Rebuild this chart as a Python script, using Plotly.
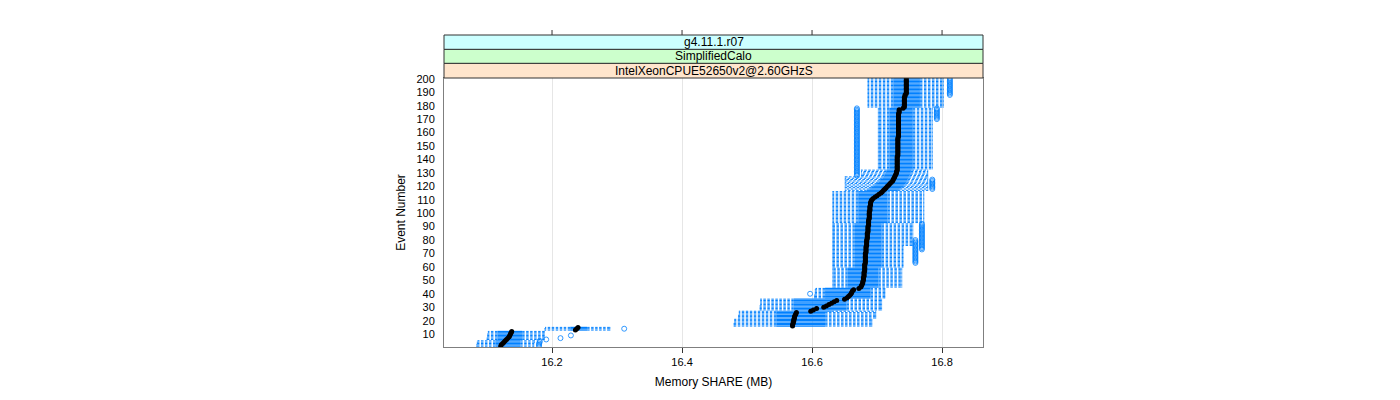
import plotly.graph_objects as go

# ---------------- data ----------------
events = list(range(1, 201))

med = [
16.121, 16.122, 16.124, 16.126, 16.128, 16.130, 16.132, 16.134, 16.135, 16.136,
16.137, 16.138, 16.236, 16.238, 16.240, 16.570, 16.570, 16.571, 16.571, 16.572,
16.572, 16.573, 16.573, 16.574, 16.575, 16.576, 16.598, 16.602, 16.607, 16.618,
16.622, 16.626, 16.630, 16.634, 16.638, 16.650, 16.654, 16.656, 16.658, 16.660,
16.661, 16.662, 16.664, 16.672, 16.675, 16.676, 16.677, 16.678, 16.678, 16.679,
16.679, 16.679, 16.680, 16.680, 16.680, 16.680, 16.681, 16.681, 16.681, 16.681,
16.681, 16.681, 16.682, 16.682, 16.682, 16.682, 16.682, 16.682, 16.682, 16.682,
16.683, 16.683, 16.683, 16.683, 16.683, 16.684, 16.684, 16.684, 16.684, 16.684,
16.685, 16.685, 16.685, 16.685, 16.685, 16.686, 16.686, 16.686, 16.686, 16.686,
16.687, 16.687, 16.687, 16.687, 16.687, 16.688, 16.688, 16.688, 16.688, 16.688,
16.688, 16.689, 16.689, 16.689, 16.689, 16.690, 16.690, 16.690, 16.691, 16.692,
16.694, 16.697, 16.700, 16.703, 16.706, 16.708, 16.710, 16.712, 16.714, 16.716,
16.718, 16.720, 16.722, 16.724, 16.725, 16.726, 16.727, 16.728, 16.729, 16.730,
16.730, 16.731, 16.731, 16.731, 16.731, 16.731, 16.731, 16.731, 16.731, 16.731,
16.731, 16.731, 16.732, 16.732, 16.732, 16.732, 16.732, 16.732, 16.732, 16.732,
16.732, 16.732, 16.732, 16.732, 16.732, 16.732, 16.733, 16.733, 16.733, 16.733,
16.733, 16.733, 16.733, 16.733, 16.733, 16.733, 16.733, 16.733, 16.733, 16.733,
16.733, 16.733, 16.733, 16.733, 16.734, 16.734, 16.734, 16.740, 16.742, 16.742,
16.742, 16.742, 16.742, 16.742, 16.742, 16.742, 16.743, 16.743, 16.745, 16.745,
16.745, 16.745, 16.745, 16.745, 16.745, 16.745, 16.745, 16.745, 16.745, 16.745,
]

q1 = [
16.113, 16.113, 16.113, 16.113, 16.113, 16.116, 16.116, 16.116, 16.116, 16.116,
16.116, 16.116, 16.228, 16.228, 16.228, 16.545, 16.545, 16.545, 16.545, 16.545,
16.545, 16.545, 16.545, 16.545, 16.545, 16.545, 16.545, 16.572, 16.572, 16.572,
16.572, 16.572, 16.572, 16.572, 16.572, 16.572, 16.620, 16.620, 16.620, 16.620,
16.620, 16.620, 16.620, 16.620, 16.655, 16.655, 16.655, 16.655, 16.655, 16.655,
16.655, 16.655, 16.655, 16.655, 16.655, 16.655, 16.655, 16.655, 16.655, 16.666,
16.666, 16.666, 16.666, 16.666, 16.666, 16.666, 16.666, 16.666, 16.666, 16.666,
16.666, 16.666, 16.666, 16.666, 16.666, 16.666, 16.666, 16.666, 16.666, 16.666,
16.666, 16.666, 16.666, 16.666, 16.666, 16.666, 16.666, 16.666, 16.666, 16.666,
16.666, 16.666, 16.671, 16.671, 16.671, 16.671, 16.671, 16.671, 16.671, 16.671,
16.671, 16.671, 16.671, 16.671, 16.671, 16.671, 16.671, 16.671, 16.671, 16.671,
16.671, 16.671, 16.671, 16.671, 16.671, 16.671, 16.684, 16.688, 16.691, 16.694,
16.697, 16.700, 16.702, 16.704, 16.706, 16.708, 16.710, 16.711, 16.712, 16.713,
16.714, 16.715, 16.719, 16.719, 16.719, 16.719, 16.719, 16.719, 16.719, 16.719,
16.719, 16.719, 16.719, 16.719, 16.719, 16.719, 16.719, 16.719, 16.719, 16.719,
16.719, 16.719, 16.719, 16.719, 16.719, 16.719, 16.719, 16.719, 16.719, 16.719,
16.719, 16.719, 16.719, 16.719, 16.719, 16.719, 16.719, 16.719, 16.719, 16.719,
16.719, 16.719, 16.719, 16.719, 16.719, 16.719, 16.719, 16.719, 16.725, 16.725,
16.725, 16.725, 16.725, 16.725, 16.725, 16.725, 16.725, 16.725, 16.725, 16.725,
16.725, 16.725, 16.725, 16.725, 16.725, 16.725, 16.725, 16.725, 16.725, 16.725,
]

q3 = [
16.151, 16.151, 16.151, 16.151, 16.151, 16.154, 16.154, 16.154, 16.154, 16.154,
16.154, 16.154, 16.254, 16.254, 16.254, 16.620, 16.620, 16.620, 16.620, 16.620,
16.620, 16.620, 16.620, 16.620, 16.620, 16.620, 16.630, 16.653, 16.653, 16.653,
16.653, 16.653, 16.653, 16.653, 16.653, 16.653, 16.690, 16.690, 16.690, 16.690,
16.690, 16.690, 16.690, 16.690, 16.702, 16.702, 16.702, 16.702, 16.702, 16.702,
16.702, 16.702, 16.702, 16.702, 16.702, 16.702, 16.702, 16.702, 16.702, 16.707,
16.707, 16.707, 16.707, 16.707, 16.707, 16.707, 16.707, 16.707, 16.707, 16.707,
16.707, 16.707, 16.707, 16.707, 16.707, 16.707, 16.707, 16.707, 16.707, 16.707,
16.707, 16.707, 16.707, 16.707, 16.707, 16.707, 16.707, 16.707, 16.707, 16.707,
16.707, 16.707, 16.716, 16.716, 16.716, 16.716, 16.716, 16.716, 16.716, 16.716,
16.716, 16.716, 16.716, 16.716, 16.716, 16.716, 16.716, 16.716, 16.716, 16.716,
16.716, 16.716, 16.716, 16.716, 16.716, 16.716, 16.732, 16.735, 16.738, 16.740,
16.742, 16.744, 16.745, 16.746, 16.747, 16.748, 16.749, 16.750, 16.751, 16.752,
16.752, 16.753, 16.755, 16.755, 16.755, 16.755, 16.755, 16.755, 16.755, 16.755,
16.755, 16.755, 16.755, 16.755, 16.755, 16.755, 16.755, 16.755, 16.755, 16.755,
16.755, 16.755, 16.755, 16.755, 16.755, 16.755, 16.755, 16.755, 16.755, 16.755,
16.755, 16.755, 16.755, 16.755, 16.755, 16.755, 16.755, 16.755, 16.755, 16.755,
16.755, 16.755, 16.755, 16.755, 16.755, 16.755, 16.755, 16.755, 16.766, 16.766,
16.766, 16.766, 16.766, 16.766, 16.766, 16.766, 16.766, 16.766, 16.766, 16.766,
16.766, 16.766, 16.766, 16.766, 16.766, 16.766, 16.766, 16.766, 16.766, 16.766,
]

lo = [
16.084, 16.084, 16.085, 16.085, 16.086, 16.100, 16.100, 16.101, 16.101, 16.101,
16.102, 16.102, 16.189, 16.189, 16.190, 16.480, 16.480, 16.480, 16.481, 16.481,
16.481, 16.487, 16.487, 16.487, 16.488, 16.488, 16.488, 16.520, 16.520, 16.520,
16.520, 16.521, 16.521, 16.521, 16.521, 16.521, 16.604, 16.604, 16.604, 16.605,
16.605, 16.605, 16.605, 16.606, 16.632, 16.632, 16.632, 16.632, 16.632, 16.632,
16.632, 16.632, 16.632, 16.632, 16.632, 16.632, 16.632, 16.632, 16.632, 16.632,
16.632, 16.632, 16.632, 16.632, 16.632, 16.632, 16.632, 16.632, 16.632, 16.632,
16.632, 16.632, 16.632, 16.632, 16.632, 16.632, 16.632, 16.632, 16.632, 16.632,
16.632, 16.632, 16.632, 16.632, 16.632, 16.632, 16.632, 16.632, 16.632, 16.632,
16.632, 16.632, 16.632, 16.632, 16.632, 16.632, 16.632, 16.632, 16.632, 16.632,
16.632, 16.632, 16.632, 16.632, 16.632, 16.632, 16.632, 16.632, 16.632, 16.632,
16.632, 16.632, 16.632, 16.632, 16.632, 16.632, 16.651, 16.651, 16.651, 16.651,
16.651, 16.651, 16.651, 16.651, 16.651, 16.651, 16.651, 16.676, 16.676, 16.676,
16.676, 16.676, 16.702, 16.702, 16.702, 16.702, 16.702, 16.702, 16.702, 16.702,
16.702, 16.702, 16.702, 16.702, 16.702, 16.702, 16.702, 16.702, 16.702, 16.702,
16.702, 16.702, 16.702, 16.702, 16.702, 16.702, 16.702, 16.702, 16.702, 16.702,
16.702, 16.702, 16.702, 16.702, 16.702, 16.702, 16.702, 16.702, 16.702, 16.702,
16.702, 16.702, 16.702, 16.702, 16.702, 16.702, 16.702, 16.702, 16.686, 16.686,
16.686, 16.686, 16.686, 16.686, 16.686, 16.686, 16.686, 16.686, 16.686, 16.686,
16.686, 16.686, 16.686, 16.686, 16.686, 16.686, 16.686, 16.686, 16.686, 16.686,
]

hi = [
16.172, 16.172, 16.172, 16.173, 16.173, 16.188, 16.188, 16.188, 16.188, 16.188,
16.188, 16.188, 16.289, 16.289, 16.289, 16.692, 16.692, 16.692, 16.692, 16.692,
16.692, 16.698, 16.698, 16.698, 16.698, 16.698, 16.698, 16.707, 16.707, 16.707,
16.707, 16.707, 16.707, 16.707, 16.707, 16.707, 16.712, 16.712, 16.712, 16.712,
16.712, 16.712, 16.712, 16.712, 16.738, 16.738, 16.738, 16.738, 16.738, 16.738,
16.738, 16.738, 16.738, 16.738, 16.738, 16.738, 16.738, 16.738, 16.738, 16.740,
16.740, 16.740, 16.740, 16.740, 16.740, 16.740, 16.740, 16.740, 16.740, 16.740,
16.740, 16.740, 16.740, 16.740, 16.740, 16.755, 16.755, 16.755, 16.755, 16.755,
16.755, 16.755, 16.755, 16.755, 16.755, 16.755, 16.755, 16.755, 16.755, 16.755,
16.755, 16.755, 16.772, 16.772, 16.772, 16.772, 16.772, 16.772, 16.772, 16.772,
16.772, 16.772, 16.772, 16.772, 16.772, 16.772, 16.772, 16.772, 16.772, 16.772,
16.772, 16.772, 16.772, 16.772, 16.772, 16.772, 16.778, 16.778, 16.778, 16.778,
16.778, 16.778, 16.778, 16.778, 16.778, 16.778, 16.778, 16.778, 16.778, 16.778,
16.778, 16.778, 16.785, 16.785, 16.785, 16.785, 16.785, 16.785, 16.785, 16.785,
16.785, 16.785, 16.785, 16.785, 16.785, 16.785, 16.785, 16.785, 16.785, 16.785,
16.785, 16.785, 16.785, 16.785, 16.785, 16.785, 16.785, 16.785, 16.785, 16.785,
16.785, 16.785, 16.785, 16.785, 16.785, 16.785, 16.785, 16.785, 16.785, 16.785,
16.785, 16.785, 16.785, 16.785, 16.785, 16.785, 16.785, 16.785, 16.802, 16.802,
16.802, 16.802, 16.802, 16.802, 16.802, 16.802, 16.802, 16.802, 16.802, 16.802,
16.802, 16.802, 16.802, 16.802, 16.802, 16.802, 16.802, 16.802, 16.802, 16.802,
]

out_event = [
1, 2, 3, 4, 5, 6, 7, 9, 14, 40,
63, 64, 65, 66, 67, 68, 69, 70, 71, 72, 73, 74, 75, 76, 77, 78, 79, 80,
73, 74, 75, 76, 77, 78, 79, 80, 81, 82, 83, 84, 85, 86, 87, 88, 89, 90, 91, 92,
118, 119, 120, 121, 122, 123, 124, 125,
128, 129, 130, 131, 132, 133, 134, 135, 136, 137, 138, 139, 140, 141, 142, 143,
144, 145, 146, 147, 148, 149, 150, 151, 152, 153, 154, 155, 156, 157, 158, 159,
160, 161, 162, 163, 164, 165, 166, 167, 168, 169, 170, 171, 172, 173, 174, 175,
176, 177, 178,
170, 171, 172, 173, 174, 175, 176, 177, 178,
188, 189, 190, 191, 192, 193, 194, 195, 196, 197, 198, 199, 200,
]
out_value = [
16.180, 16.180, 16.180, 16.181, 16.181, 16.191, 16.213, 16.229, 16.311, 16.597,
16.759, 16.759, 16.759, 16.759, 16.759, 16.759, 16.759, 16.759, 16.759, 16.759, 16.759, 16.759, 16.759, 16.759, 16.759, 16.759, 16.759, 16.759,
16.769, 16.769, 16.769, 16.769, 16.769, 16.769, 16.769, 16.769, 16.769, 16.769, 16.769, 16.769, 16.769, 16.769, 16.769, 16.769, 16.769, 16.769, 16.769, 16.769,
16.785, 16.785, 16.785, 16.785, 16.785, 16.785, 16.785, 16.785,
16.669, 16.669, 16.669, 16.669, 16.669, 16.669, 16.669, 16.669, 16.669, 16.669, 16.669, 16.669, 16.669, 16.669, 16.669, 16.669,
16.669, 16.669, 16.669, 16.669, 16.669, 16.669, 16.669, 16.669, 16.669, 16.669, 16.669, 16.669, 16.669, 16.669, 16.669, 16.669,
16.669, 16.669, 16.669, 16.669, 16.669, 16.669, 16.669, 16.669, 16.669, 16.669, 16.669, 16.669, 16.669, 16.669, 16.669, 16.669,
16.669, 16.669, 16.669,
16.792, 16.792, 16.792, 16.792, 16.792, 16.792, 16.792, 16.792, 16.792,
16.812, 16.812, 16.812, 16.812, 16.812, 16.812, 16.812, 16.812, 16.812, 16.812, 16.812, 16.812, 16.812,
]

x_ticks = [16.2, 16.4, 16.6, 16.8]
x_tick_labels = ["16.2", "16.4", "16.6", "16.8"]
y_ticks = [10, 20, 30, 40, 50, 60, 70, 80, 90, 100, 110, 120, 130, 140, 150, 160, 170, 180, 190, 200]
strip_labels = ["IntelXeonCPUE52650v2@2.60GHzS", "SimplifiedCalo", "g4.11.1.r07"]
strip_colors = ["#FFE5CC", "#CCFFCC", "#CCFFFF"]

for arr in (med, q1, q3, lo, hi):
    assert len(arr) == len(events)
assert len(out_event) == len(out_value)

# ---------------- figure ----------------
BLUE = "#0080FF"
FONT = "Liberation Sans, Arial, Helvetica, sans-serif"
fig = go.Figure()

# whiskers (dashed, starting at the box edge)
wx, wy = [], []
for e, a, l in zip(events, q1, lo):
    wx += [a, l, None]
    wy += [e, e, None]
for e, b, h in zip(events, q3, hi):
    wx += [b, h, None]
    wy += [e, e, None]
fig.add_trace(go.Scatter(x=wx, y=wy, mode="lines", hoverinfo="skip",
                         line=dict(color=BLUE, width=1, dash="2.5px,1.5px")))

# umbrella ends
cx, cy = [], []
for e, l, h in zip(events, lo, hi):
    for v in (l, h):
        cx += [v, v, None]
        cy += [e - 0.33, e + 0.33, None]
fig.add_trace(go.Scatter(x=cx, y=cy, mode="lines", hoverinfo="skip",
                         line=dict(color=BLUE, width=1)))

# boxes
bx, by = [], []
for e, a, b in zip(events, q1, q3):
    bx += [a, b, None]
    by += [e, e, None]
fig.add_trace(go.Scatter(x=bx, y=by, mode="lines", hoverinfo="skip",
                         line=dict(color=BLUE, width=1.2)))

# outliers
fig.add_trace(go.Scatter(x=out_value, y=out_event, mode="markers", hoverinfo="skip",
                         marker=dict(symbol="circle-open", size=5, color=BLUE,
                                     line=dict(width=0.8, color=BLUE))))

# medians
fig.add_trace(go.Scatter(x=med, y=events, mode="markers", hoverinfo="skip",
                         marker=dict(symbol="circle", size=5, color="black",
                                     line=dict(width=0))))

# strips (page offset of 8 px from the body margin is compensated in margins)
plot_h = 269.0
def py(px):
    return (339.0 - px) / plot_h

strip_edges = [70.0, 55.3, 41.3, 27.0]
shapes = []
annotations = []
for i, (lab, col) in enumerate(zip(strip_labels, strip_colors)):
    y0, y1 = py(strip_edges[i]), py(strip_edges[i + 1])
    shapes.append(dict(type="rect", xref="paper", yref="paper", x0=0, x1=1, y0=y0, y1=y1,
                       fillcolor=col, line=dict(color="#333333", width=1), layer="above"))
    annotations.append(dict(text=lab, xref="paper", yref="paper", x=0.5, y=(y0 + y1) / 2,
                            showarrow=False, xanchor="center", yanchor="middle",
                            font=dict(family=FONT, size=12, color="black")))
# top ticks above strips
for t in x_ticks:
    shapes.append(dict(type="line", xref="x", yref="paper", x0=t, x1=t,
                       y0=py(27.0), y1=py(22.0), line=dict(color="#333333", width=1)))

fig.update_layout(
    width=1392, height=392,
    margin=dict(l=436, r=417, t=70, b=53),
    paper_bgcolor="white", plot_bgcolor="white",
    showlegend=False,
    shapes=shapes, annotations=annotations,
    font=dict(family=FONT, size=11, color="black"),
)
fig.update_xaxes(range=[16.0338, 16.863], tickvals=x_ticks, ticktext=x_tick_labels,
                 ticks="outside", ticklen=5, tickcolor="#333333",
                 showgrid=True, gridcolor="#E6E6E6", gridwidth=1, zeroline=False,
                 showline=True, mirror=True, linecolor="#7F7F7F", linewidth=1,
                 tickfont=dict(family=FONT, size=11, color="black"),
                 title=dict(text="Memory SHARE (MB)", standoff=10,
                            font=dict(family=FONT, size=12, color="black")))
fig.update_yaxes(range=[0.4, 200.6], tickvals=y_ticks, ticks="", showgrid=False,
                 zeroline=False, showline=True, mirror=True, linecolor="#7F7F7F", linewidth=1,
                 ticklabelstandoff=6,
                 tickfont=dict(family=FONT, size=11, color="black"),
                 title=dict(text="Event Number", standoff=8,
                            font=dict(family=FONT, size=12, color="black")))

fig.write_html("out.html")
